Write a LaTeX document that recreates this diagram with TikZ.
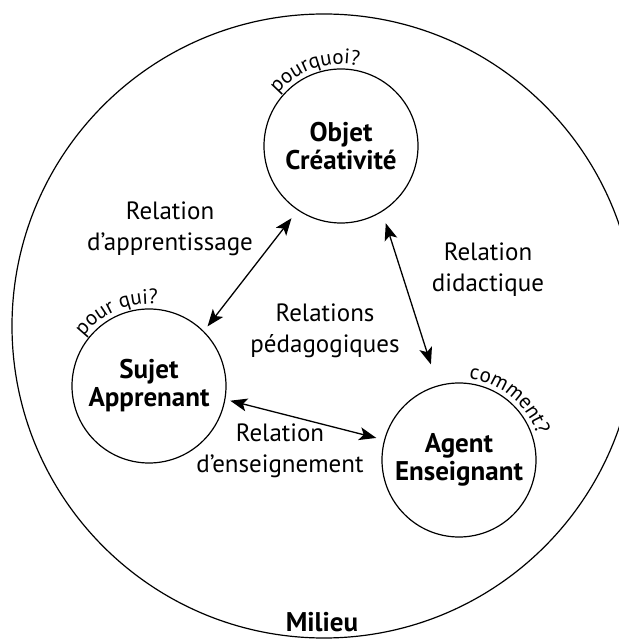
\documentclass[tikz,border=0pt]{standalone}
\usepackage{fontspec}
\setmainfont{PT Sans}
\usepackage{tikz}
\usetikzlibrary{arrows.meta,%
                shapes,positioning}
\usetikzlibrary{decorations.text}

\newcommand{\QuestionFont}{\fontsize{21}{25}\selectfont}

\begin{document}
\begin{tikzpicture}[x=1pt,y=1pt]
  \useasboundingbox (0,0) rectangle (619,641);
  \clip (0,0) rectangle (619,641);
  \tikzset{PoleStyle/.style = {draw=black, line width=1.2pt, shape=circle, minimum size=154pt, inner sep=0pt, align=center, text=black, font=\fontsize{27}{28}\selectfont\bfseries}}
  \tikzset{LabelStyle/.style = {align=center, text=black, font=\fontsize{25}{31}\selectfont}}
  \tikzset{EdgeStyle/.style   = {line width=1.3pt, {Stealth[length=17pt,width=13pt,inset=4pt]}-{Stealth[length=17pt,width=13pt,inset=4pt]}}}
  \tikzset{AskStyle/.style = {decorate, decoration={text along path, text align=center, text={|\QuestionFont|#1}}}}

  % milieu
  \node(0)[draw=black, line width=1.2pt, shape=circle, minimum size=624pt, inner sep=0pt] at (324,315) {};
  \node(m)[font=\fontsize{27}{29}\selectfont\bfseries] at (322,19) {Milieu};

  % les trois poles
  \node(1)[PoleStyle] at (341,495) {Objet\\Créativité};
  \node(2)[PoleStyle] at (149,255) {Sujet\\Apprenant};
  \node(3)[PoleStyle] at (459,181) {Agent\\Enseignant};

  \path[AskStyle={pourquoi?}] ([shift={(154:82)}]1.center) arc[start angle=154, end angle=64, radius=82];
  \path[AskStyle={pour qui?}] ([shift={(154:82)}]2.center) arc[start angle=154, end angle=73, radius=82];
  \path[AskStyle={comment?}] ([shift={(94:82)}]3.center) arc[start angle=94, end angle=7, radius=82];

  % relations
  \node(4)[LabelStyle] at (170,412) {Relation\\d’apprentissage};
  \node(5)[LabelStyle] at (488,371) {Relation\\didactique};
  \node(6)[LabelStyle] at (325,310) {Relations\\pédagogiques};
  \node(7)[LabelStyle] at (280,190) {Relation\\d’enseignement};

     \draw[EdgeStyle, shorten <=6pt, shorten >=10pt](2.45) to (1.236);
     \draw[EdgeStyle, shorten <=12pt, shorten >=22pt](1.302) to (3.106);
     \draw[EdgeStyle, shorten <=5pt, shorten >=8pt](2.350) to (3.165);

\end{tikzpicture}
\end{document}
